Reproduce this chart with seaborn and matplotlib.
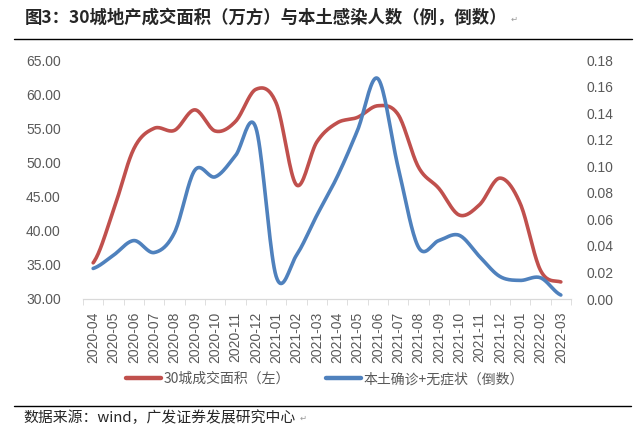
import numpy as np
import pandas as pd
import matplotlib
matplotlib.use("Agg")
import matplotlib.pyplot as plt
import seaborn as sns
from matplotlib.lines import Line2D
from matplotlib.ticker import FormatStrFormatter, MultipleLocator

# data
months = ["2020-04", "2020-05", "2020-06", "2020-07", "2020-08", "2020-09",
          "2020-10", "2020-11", "2020-12", "2021-01", "2021-02", "2021-03",
          "2021-04", "2021-05", "2021-06", "2021-07", "2021-08", "2021-09",
          "2021-10", "2021-11", "2021-12", "2022-01", "2022-02", "2022-03"]
area_30 = [35.3, 43.0, 52.0, 55.0, 54.7, 57.7, 54.6, 56.0, 60.7, 58.7, 46.7, 53.0,
           55.8, 56.6, 58.3, 57.0, 49.3, 46.2, 42.3, 43.8, 47.7, 44.0, 34.2, 32.5]
inv_cases = [0.023, 0.033, 0.044, 0.035, 0.050, 0.097, 0.092, 0.108, 0.129, 0.017,
             0.033, 0.063, 0.092, 0.127, 0.166, 0.099, 0.039, 0.044, 0.048, 0.032,
             0.017, 0.014, 0.016, 0.003]

red = "#C0504D"
blue = "#4F81BD"
grey = "#595959"
cjk = ["Noto Sans CJK SC", "DejaVu Sans"]


def smooth(y, n=20):
    # excel-style smoothed line (catmull-rom through the data points)
    y = np.asarray(y, dtype=float)
    p = np.concatenate([[y[0]], y, [y[-1]]])
    xs, ys = [], []
    for i in range(len(y) - 1):
        t = np.linspace(0, 1, n, endpoint=False)
        p0, p1, p2, p3 = p[i], p[i + 1], p[i + 2], p[i + 3]
        v = 0.5 * (2 * p1 + (-p0 + p2) * t + (2 * p0 - 5 * p1 + 4 * p2 - p3) * t ** 2
                   + (-p0 + 3 * p1 - 3 * p2 + p3) * t ** 3)
        xs.append(i + t)
        ys.append(v)
    xs.append([len(y) - 1])
    ys.append([y[-1]])
    return np.concatenate(xs), np.concatenate(ys)


sns.set_style("white")
plt.rcParams["font.family"] = ["Liberation Sans", "DejaVu Sans"]

fig = plt.figure(figsize=(6.38, 4.36), dpi=100)
ax = fig.add_axes([83 / 638, 1 - 299 / 436, 488 / 638, 239 / 436])
ax2 = ax.twinx()

xr, yr = smooth(area_30)
xb, yb = smooth(inv_cases)
df_r = pd.DataFrame({"x": xr, "y": yr})
df_b = pd.DataFrame({"x": xb, "y": yb})
sns.lineplot(data=df_r, x="x", y="y", ax=ax, color=red, lw=2.6, sort=False)
sns.lineplot(data=df_b, x="x", y="y", ax=ax2, color=blue, lw=2.6, sort=False)

ax.set_xlim(-0.5, len(months) - 0.5)
ax.set_ylim(30, 65)
ax2.set_ylim(0, 0.18)
ax.yaxis.set_major_locator(MultipleLocator(5))
ax2.yaxis.set_major_locator(MultipleLocator(0.02))
ax.yaxis.set_major_formatter(FormatStrFormatter("%.2f"))
ax2.yaxis.set_major_formatter(FormatStrFormatter("%.2f"))
ax.set_xticks(range(len(months)))
ax.set_xticklabels(months, rotation=90)
ax.set_xticks(np.arange(-0.5, len(months), 1), minor=True)
ax.tick_params(axis="x", which="major", length=0, pad=9, labelsize=10, labelcolor=grey)
ax.tick_params(axis="x", which="minor", length=4, color="#D9D9D9", bottom=True)
ax.tick_params(axis="y", length=0, pad=16, labelsize=10, labelcolor=grey)
ax2.tick_params(axis="y", length=0, pad=11, labelsize=10, labelcolor=grey)
for a in (ax, ax2):
    a.set_xlabel("")
    a.set_ylabel("")
    for s in ["top", "left", "right"]:
        a.spines[s].set_visible(False)
    a.spines["bottom"].set_color("#D9D9D9")
    a.grid(False)

# title and rules
fig.text(25 / 638, 1 - 18 / 436, "图3：30城地产成交面积（万方）与本土感染人数（例，倒数）",
         family=cjk, fontsize=12.5, fontweight="bold", va="center", ha="left")
fig.text(511 / 638, 1 - 19 / 436, "↵", family=["DejaVu Sans"], fontsize=6, color="#999999", va="center")
fig.add_artist(Line2D([14 / 638, 632 / 638], [1 - 39 / 436] * 2, color="black", lw=1))
fig.add_artist(Line2D([14 / 638, 631 / 638], [1 - 406 / 436] * 2, color="black", lw=1))
fig.text(23 / 638, 1 - 418 / 436, "数据来源：wind，广发证券发展研究中心",
         family=cjk, fontsize=10.7, va="center", ha="left")
fig.text(300 / 638, 1 - 418 / 436, "↵", family=["DejaVu Sans"], fontsize=6, color="#999999", va="center")

handles = [Line2D([], [], color=red, lw=3.2), Line2D([], [], color=blue, lw=3.2)]
labels = ["30城成交面积（左）", "本土确诊+无症状（倒数）"]
leg = fig.legend(handles, labels, loc="center", bbox_to_anchor=(0.51, 1 - 379 / 436), ncol=2,
                 frameon=False, handlelength=2.5, handletextpad=0.2, columnspacing=2.6,
                 prop={"family": cjk, "size": 10})
for t in leg.get_texts():
    t.set_color(grey)

fig.savefig("out.png", dpi=100)
